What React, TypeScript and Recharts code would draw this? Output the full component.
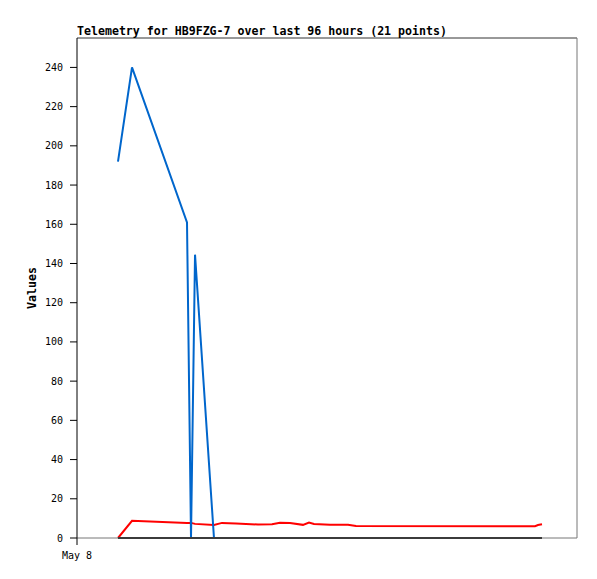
import React from "react";
import { LineChart, Line, XAxis, YAxis, ReferenceLine } from "recharts";

// hours since May 8 00:00
const hours = [7.87, 10.56, 21.12, 21.89, 22.66, 26.3, 27.84, 30.53, 34.75, 37.44, 38.98, 40.9, 43.39, 44.54, 45.5, 48.58, 52.03, 53.57, 87.94, 88.51, 89.28];
const blueValues = [192, 240, 161, 0, 144.5, 0, 0, 0, 0, 0, 0, 0, 0, 0, 0, 0, 0, 0, 0, 0, 0];
const redValues = [0, 8.8, 7.7, 7.7, 7.2, 6.6, 7.7, 7.4, 6.9, 7.0, 7.8, 7.6, 6.7, 7.9, 7.1, 6.8, 6.8, 6.1, 6.0, 6.6, 7.0];
const blackValues = [0, 0, 0, 0, 0, 0, 0, 0, 0, 0, 0, 0, 0, 0, 0, 0, 0, 0, 0, 0, 0];
const yTicks = [0, 20, 40, 60, 80, 100, 120, 140, 160, 180, 200, 220, 240];
const xTicks = [0];
const xTickLabels = ["May 8"];
const title = "Telemetry for HB9FZG-7 over last 96 hours (21 points)";
const yLabel = "Values";

const data = hours.map((h, i) => ({
  h,
  blue: blueValues[i],
  red: redValues[i],
  black: blackValues[i],
}));

const W = 581;
const H = 563;
const mono = "'DejaVu Sans Mono', 'Liberation Mono', monospace";

export default function App() {
  return (
    <div style={{ position: "relative", width: W, height: H }}>
      <LineChart
        width={W}
        height={H}
        data={data}
        margin={{ top: 30, right: 12, left: 0, bottom: 0 }}
      >
        <XAxis
          dataKey="h"
          type="number"
          domain={[0, 96]}
          ticks={xTicks}
          tickFormatter={(v: number) => xTickLabels[xTicks.indexOf(v)] ?? ""}
          height={33}
          tickSize={7}
          tickMargin={7}
          axisLine={{ stroke: "#777", strokeWidth: 1 }}
          tickLine={{ stroke: "#000", strokeWidth: 1 }}
          tick={{ fill: "#000", fontSize: 10, fontFamily: mono }}
        />
        <YAxis
          type="number"
          domain={[0, 255]}
          ticks={yTicks}
          width={69}
          tickSize={7}
          tickMargin={7}
          interval={0}
          axisLine={{ stroke: "#000", strokeWidth: 1 }}
          tickLine={{ stroke: "#000", strokeWidth: 1 }}
          tick={{ fill: "#000", fontSize: 10, fontFamily: mono }}
        />
        <ReferenceLine y={255} stroke="#333" strokeWidth={1} />
        <ReferenceLine x={96} stroke="#777" strokeWidth={1} />
        <Line
          type="linear"
          dataKey="red"
          stroke="#ff0000"
          strokeWidth={2}
          dot={false}
          activeDot={false}
          isAnimationActive={false}
        />
        <Line
          type="linear"
          dataKey="blue"
          stroke="#0066cc"
          strokeWidth={2}
          dot={false}
          activeDot={false}
          isAnimationActive={false}
        />
        <Line
          type="linear"
          dataKey="black"
          stroke="#000000"
          strokeWidth={2}
          dot={false}
          activeDot={false}
          isAnimationActive={false}
        />
      </LineChart>
      <svg
        width={W}
        height={H}
        style={{ position: "absolute", left: 0, top: 0, pointerEvents: "none" }}
      >
        <text x={69} y={26.5} fontFamily={mono} fontWeight="bold" fontSize={11.6} fill="#000">
          {title}
        </text>
        <text
          x={28}
          y={280}
          transform="rotate(-90, 28, 280)"
          textAnchor="middle"
          fontFamily={mono}
          fontWeight="bold"
          fontSize={11.6}
          fill="#000"
        >
          {yLabel}
        </text>
      </svg>
    </div>
  );
}
